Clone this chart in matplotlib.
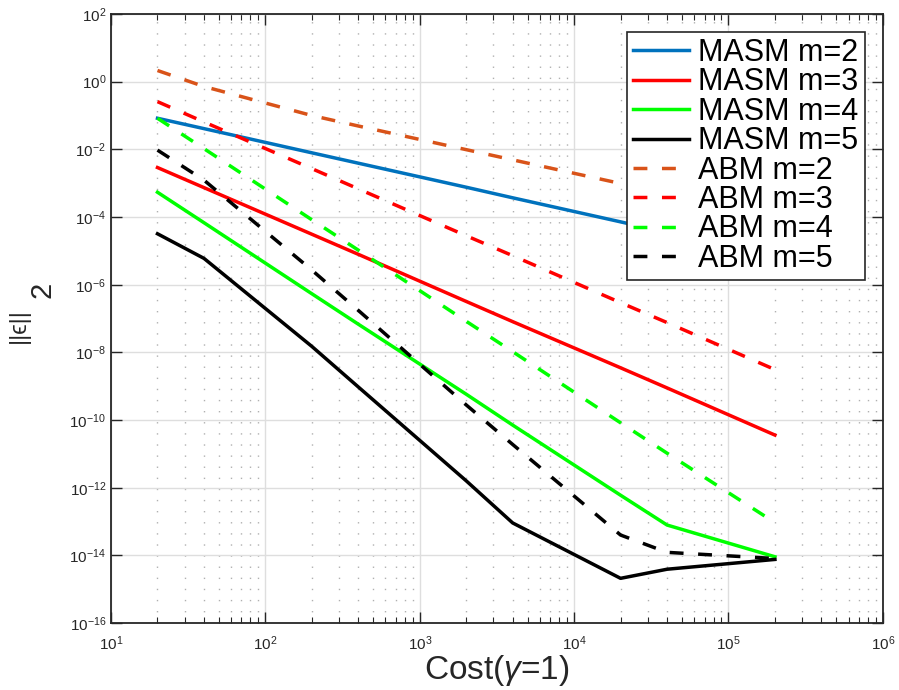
import numpy as np
import matplotlib
matplotlib.use("Agg")
import matplotlib.pyplot as plt
from matplotlib.ticker import LogLocator, FixedLocator, NullLocator


# -----------------------------
# Data
# -----------------------------
cost = [20, 40, 200, 400, 2000, 4000, 20000, 40000, 200000]

masm_m2 = [8.3e-2, 4.1e-2, 7.9e-3, 3.9e-3, 7.6e-4, 3.7e-4, 7.2e-5, 3.5e-5, 6.9e-6]
masm_m3 = [2.9e-3, 7.4e-4, 3.1e-5, 7.9e-6, 3.2e-7, 8.1e-8, 3.5e-9, 8.9e-10, 3.6e-11]
masm_m4 = [5.4e-4, 6.8e-5, 5.4e-7, 6.8e-8, 5.8e-10, 7.1e-11, 6.0e-13, 7.9e-14, 9.1e-15]
masm_m5 = [3.2e-5, 6.0e-6, 1.5e-8, 9.5e-10, 1.6e-12, 9.1e-14, 2.1e-15, 3.9e-15, 7.6e-15]

abm_m2 = [2.14, 0.72, 0.10, 4.9e-2, 9.8e-3, 4.9e-3, 9.8e-4, 4.9e-4, 9.8e-5]
abm_m3 = [0.257, 6.46e-2, 2.69e-3, 6.8e-4, 2.8e-5, 7.2e-6, 2.95e-7, 7.6e-8, 3.1e-9]
abm_m4 = [8.3e-2, 1.05e-2, 8.3e-5, 1.05e-5, 8.3e-8, 1.05e-8, 8.3e-11, 1.05e-11, 9.3e-14]
abm_m5 = [9.5e-3, 1.23e-3, 2.7e-6, 1.74e-7, 2.8e-10, 1.9e-11, 4.0e-14, 1.23e-14, 8.1e-15]

labels = ["MASM m=2", "MASM m=3", "MASM m=4", "MASM m=5",
          "ABM m=2", "ABM m=3", "ABM m=4", "ABM m=5"]
colors = ["#0072BD", "#FF0000", "#00FF00", "#000000",
          "#D95319", "#FF0000", "#00FF00", "#000000"]

# -----------------------------
# Style
# -----------------------------
plt.rcParams["font.family"] = ["Liberation Sans", "DejaVu Sans"]
plt.rcParams["mathtext.fontset"] = "custom"
plt.rcParams["mathtext.rm"] = "Liberation Sans"
plt.rcParams["mathtext.it"] = "Liberation Sans:italic"
plt.rcParams["mathtext.bf"] = "Liberation Sans:bold"

AX_COLOR = "#262626"


def main():
    fig = plt.figure(figsize=(8.99, 6.9), dpi=100)
    ax = fig.add_axes([0.1235, 0.097, 0.8585, 0.8827])

    series = [masm_m2, masm_m3, masm_m4, masm_m5, abm_m2, abm_m3, abm_m4, abm_m5]
    for i, (ys, lab, col) in enumerate(zip(series, labels, colors)):
        if i < 4:
            ax.plot(cost, ys, color=col, lw=2.5, label=lab)
        else:
            ax.plot(cost, ys, color=col, lw=2.5, ls=(0, (4, 4.2)), label=lab)

    ax.set_xscale("log")
    ax.set_yscale("log")
    ax.set_xlim(1e1, 1e6)
    ax.set_ylim(1e-16, 1e2)

    ax.xaxis.set_major_locator(LogLocator(base=10, numticks=10))
    ax.xaxis.set_minor_locator(LogLocator(base=10, subs=np.arange(2, 10), numticks=20))
    ax.yaxis.set_major_locator(FixedLocator([10.0 ** k for k in range(-16, 3, 2)]))
    ax.yaxis.set_minor_locator(NullLocator())

    ax.grid(True, which="major", color="#dedede", lw=1.0, ls="-")
    ax.grid(True, which="minor", axis="x", color="#b0b0b0", lw=1.0, ls=(0, (1, 7)))
    ax.set_axisbelow(True)

    ax.tick_params(which="both", direction="in", top=True, right=True,
                   colors=AX_COLOR, labelsize=11)
    ax.tick_params(which="major", length=8, width=1.0)
    ax.tick_params(which="minor", length=4.5, width=0.8)
    ax.tick_params(axis="x", pad=8)
    for sp in ax.spines.values():
        sp.set_color(AX_COLOR)
        sp.set_linewidth(1.3)

    ax.set_xlabel(r"Cost($\gamma$=1)", fontsize=24, color=AX_COLOR, labelpad=0)

    # y label: ||eps|| with a large dropped subscript, MATLAB style
    fig.text(0.021, 0.528, "||\u03f5||", rotation=90, ha="center", va="center",
             fontsize=17, color=AX_COLOR)
    fig.text(0.047, 0.580, "2", rotation=90, ha="center", va="center",
             fontsize=21, color=AX_COLOR)

    leg = ax.legend(loc="upper right", bbox_to_anchor=(0.9767, 0.9705),
                    fontsize=22, frameon=True, fancybox=False,
                    framealpha=1.0, edgecolor=AX_COLOR,
                    handlelength=1.85, handletextpad=0.3, labelspacing=-0.02,
                    borderpad=0.2, borderaxespad=0.0)
    leg.get_frame().set_linewidth(1.2)

    fig.savefig("out.png", dpi=100)
    plt.close(fig)


if __name__ == "__main__":
    main()
